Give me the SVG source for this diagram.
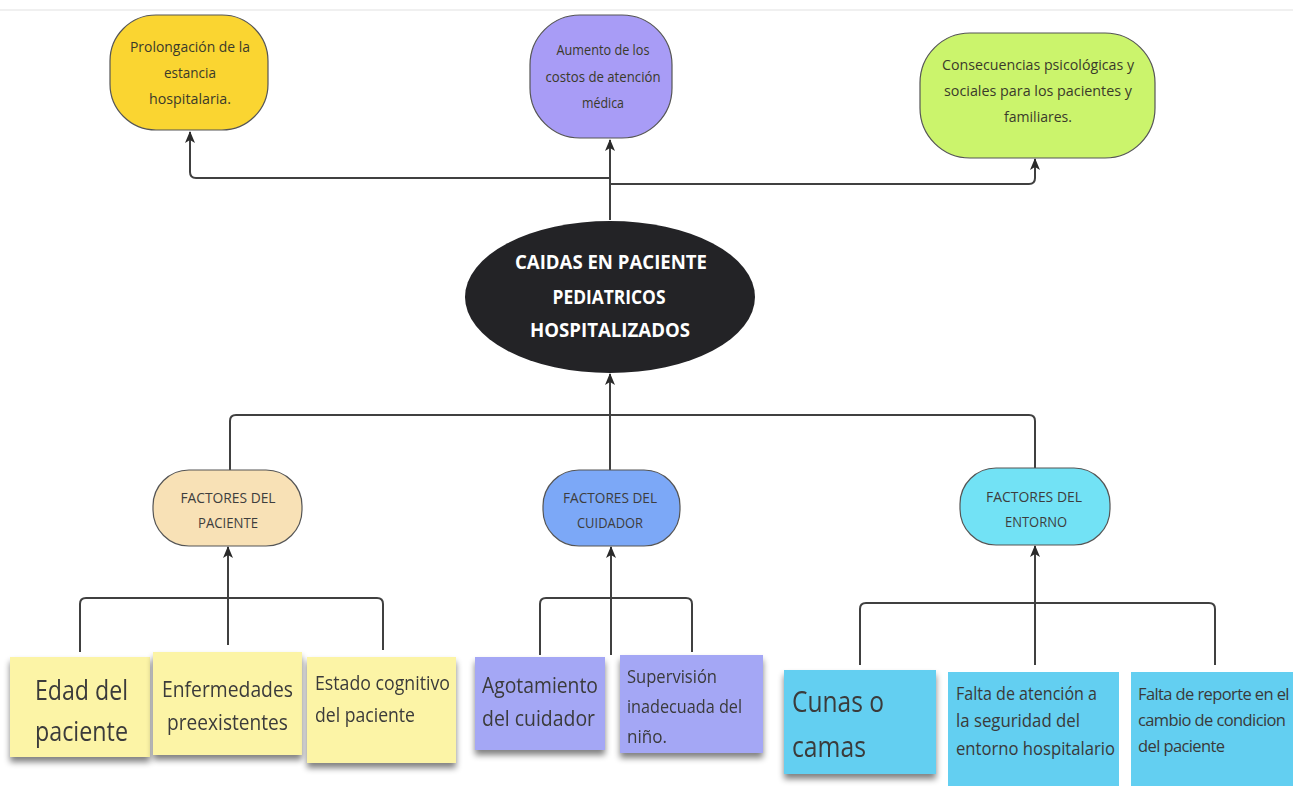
<svg xmlns="http://www.w3.org/2000/svg" width="1293" height="786" viewBox="0 0 1293 786">
<defs>
<style>
.t{font-family:"Open Sans","Liberation Sans",sans-serif;text-anchor:middle;fill:#3a3a2a}
.top{font-size:15px}
.fac{font-size:14.5px;fill:#3d3d3d}
.ctr{font-family:"Open Sans","Liberation Sans",sans-serif;font-weight:bold;font-size:20px;text-anchor:middle;fill:#ffffff}
.st{font-family:"Open Sans","Liberation Sans",sans-serif;fill:#3a3a3a}
.c{fill:none;stroke:#404040;stroke-width:2;stroke-linejoin:round}
.n{stroke:#555;stroke-width:1.2}
</style>
<marker id="ah" viewBox="0 0 12 10" refX="11" refY="5" markerWidth="12" markerHeight="10" orient="auto" markerUnits="userSpaceOnUse">
<path d="M0,0 L12,5 L0,10 L3,5 z" fill="#2a2a2a"/>
</marker>
<filter id="sh" x="-10%" y="-10%" width="120%" height="140%">
<feGaussianBlur in="SourceAlpha" stdDeviation="3"/>
<feOffset dy="5"/>
<feComponentTransfer><feFuncA type="linear" slope="0.5"/></feComponentTransfer>
<feMerge><feMergeNode/><feMergeNode in="SourceGraphic"/></feMerge>
</filter>
</defs>
<rect width="1293" height="786" fill="#ffffff"/>
<line x1="0" y1="10" x2="1293" y2="10" stroke="#f0f0f0" stroke-width="2"/>

<g id="connectors">
<path class="c" d="M610,220 V140" marker-end="url(#ah)"/>
<path class="c" d="M610,178 H196 Q190,178 190,172 V132" marker-end="url(#ah)"/>
<path class="c" d="M610,184 H1029 Q1035,184 1035,178 V159" marker-end="url(#ah)"/>
<path class="c" d="M610,470 V374" marker-end="url(#ah)"/>
<path class="c" d="M230,470 V421 Q230,415 236,415 H1029 Q1035,415 1035,421 V468"/>
<path class="c" d="M228,645 V547" marker-end="url(#ah)"/>
<path class="c" d="M80,652 V604 Q80,598 86,598 H377 Q383,598 383,604 V650"/>
<path class="c" d="M611,655 V547" marker-end="url(#ah)"/>
<path class="c" d="M540,655 V604 Q540,598 546,598 H686 Q692,598 692,604 V652"/>
<path class="c" d="M1035,665 V546" marker-end="url(#ah)"/>
<path class="c" d="M860,665 V609 Q860,603 866,603 H1209 Q1215,603 1215,609 V665"/>
</g>

<g id="n-prolongacion">
<rect class="n" x="110" y="15" width="158" height="115" rx="46" fill="#fad531"/>
<text class="t top" x="190" y="52" textLength="120" lengthAdjust="spacingAndGlyphs">Prolongación de la</text>
<text class="t top" x="190" y="78" textLength="52" lengthAdjust="spacingAndGlyphs">estancia</text>
<text class="t top" x="190" y="104" textLength="82" lengthAdjust="spacingAndGlyphs">hospitalaria.</text>
</g>
<g id="n-costos">
<rect class="n" x="530" y="15" width="142" height="123" rx="50" fill="#a89cf6"/>
<text class="t top" x="603" y="55" textLength="93" lengthAdjust="spacingAndGlyphs">Aumento de los</text>
<text class="t top" x="603" y="82" textLength="115" lengthAdjust="spacingAndGlyphs">costos de atención</text>
<text class="t top" x="603" y="108" textLength="42" lengthAdjust="spacingAndGlyphs">médica</text>
</g>
<g id="n-consecuencias">
<rect class="n" x="920" y="33" width="235" height="125" rx="50" fill="#cbf46c"/>
<text class="t top" x="1038" y="70" textLength="192" lengthAdjust="spacingAndGlyphs">Consecuencias psicológicas y</text>
<text class="t top" x="1038" y="96" textLength="188" lengthAdjust="spacingAndGlyphs">sociales para los pacientes y</text>
<text class="t top" x="1038" y="122" textLength="68" lengthAdjust="spacingAndGlyphs">familiares.</text>
</g>
<g id="n-caidas">
<ellipse cx="610" cy="297" rx="145" ry="76" fill="#232326"/>
<text class="ctr" x="611" y="269" textLength="192" lengthAdjust="spacingAndGlyphs">CAIDAS EN PACIENTE</text>
<text class="ctr" x="609" y="304" textLength="113" lengthAdjust="spacingAndGlyphs">PEDIATRICOS</text>
<text class="ctr" x="610" y="337" textLength="160" lengthAdjust="spacingAndGlyphs">HOSPITALIZADOS</text>
</g>

<g id="n-fac-paciente">
<rect class="n" x="153" y="470" width="149" height="76" rx="36" fill="#f8e1b6"/>
<text class="t fac" x="228" y="503" textLength="95" lengthAdjust="spacingAndGlyphs">FACTORES DEL</text>
<text class="t fac" x="228" y="528" textLength="60" lengthAdjust="spacingAndGlyphs">PACIENTE</text>
</g>
<g id="n-fac-cuidador">
<rect class="n" x="543" y="470" width="137" height="76" rx="36" fill="#7ca8f7"/>
<text class="t fac" x="610" y="503" textLength="94" lengthAdjust="spacingAndGlyphs">FACTORES DEL</text>
<text class="t fac" x="610" y="528" textLength="66" lengthAdjust="spacingAndGlyphs">CUIDADOR</text>
</g>
<g id="n-fac-entorno">
<rect class="n" x="960" y="468" width="150" height="77" rx="36" fill="#72e2f5"/>
<text class="t fac" x="1034" y="502" textLength="96" lengthAdjust="spacingAndGlyphs">FACTORES DEL</text>
<text class="t fac" x="1036" y="527" textLength="62" lengthAdjust="spacingAndGlyphs">ENTORNO</text>
</g>

<g id="s-edad" filter="url(#sh)">
<rect x="10" y="657" width="140" height="100" fill="#fcf4a6"/>
<text class="st" x="35" y="700" font-size="28" textLength="93" lengthAdjust="spacingAndGlyphs">Edad del</text>
<text class="st" x="35" y="741" font-size="28" textLength="93" lengthAdjust="spacingAndGlyphs">paciente</text>
</g>
<g id="s-enfermedades" filter="url(#sh)">
<rect x="153" y="652" width="149" height="103" fill="#fcf4a6"/>
<text class="st" x="162" y="697" font-size="21" textLength="131" lengthAdjust="spacingAndGlyphs">Enfermedades</text>
<text class="st" x="167" y="730" font-size="21" textLength="121" lengthAdjust="spacingAndGlyphs">preexistentes</text>
</g>
<g id="s-estado" filter="url(#sh)">
<rect x="307" y="657" width="149" height="106" fill="#fcf4a6"/>
<text class="st" x="315" y="690" font-size="20" textLength="135" lengthAdjust="spacingAndGlyphs">Estado cognitivo</text>
<text class="st" x="315" y="722" font-size="20" textLength="100" lengthAdjust="spacingAndGlyphs">del paciente</text>
</g>
<g id="s-agotamiento" filter="url(#sh)">
<rect x="475" y="657" width="130" height="93" fill="#a4a7f5"/>
<text class="st" x="482" y="693" font-size="22" textLength="116" lengthAdjust="spacingAndGlyphs">Agotamiento</text>
<text class="st" x="482" y="726" font-size="22" textLength="113" lengthAdjust="spacingAndGlyphs">del cuidador</text>
</g>
<g id="s-supervision" filter="url(#sh)">
<rect x="620" y="655" width="143" height="98" fill="#a4a7f5"/>
<text class="st" x="627" y="683" font-size="18.5" textLength="90" lengthAdjust="spacingAndGlyphs">Supervisión</text>
<text class="st" x="627" y="713" font-size="18.5" textLength="115" lengthAdjust="spacingAndGlyphs">inadecuada del</text>
<text class="st" x="627" y="743" font-size="18.5" textLength="40" lengthAdjust="spacingAndGlyphs">niño.</text>
</g>
<g id="s-cunas" filter="url(#sh)">
<rect x="784" y="670" width="152" height="104" fill="#63cff1"/>
<text class="st" x="792" y="712" font-size="30" textLength="92" lengthAdjust="spacingAndGlyphs">Cunas o</text>
<text class="st" x="792" y="757" font-size="30" textLength="74" lengthAdjust="spacingAndGlyphs">camas</text>
</g>
<g id="s-falta-atencion">
<rect x="948" y="672" width="171" height="114" fill="#63cff1"/>
<text class="st" x="956" y="700" font-size="18" textLength="141" lengthAdjust="spacingAndGlyphs">Falta de atención a</text>
<text class="st" x="956" y="727" font-size="18" textLength="124" lengthAdjust="spacingAndGlyphs">la seguridad del</text>
<text class="st" x="956" y="755" font-size="18" textLength="159" lengthAdjust="spacingAndGlyphs">entorno hospitalario</text>
</g>
<g id="s-falta-reporte">
<rect x="1131" y="672" width="162" height="114" fill="#63cff1"/>
<text class="st" x="1138" y="700" font-size="16.5" letter-spacing="-0.6">Falta de reporte en el</text>
<text class="st" x="1138" y="726" font-size="16.5" letter-spacing="-0.6">cambio de condicion</text>
<text class="st" x="1138" y="752" font-size="16.5" letter-spacing="-0.6">del paciente</text>
</g>
</svg>
